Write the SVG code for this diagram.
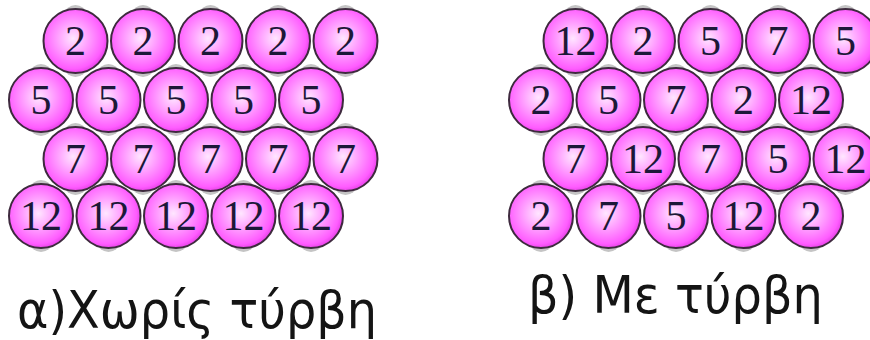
<svg xmlns="http://www.w3.org/2000/svg" xmlns:xlink="http://www.w3.org/1999/xlink" width="870" height="340" viewBox="0 0 870 340">
<style>
.n{font-family:"Liberation Serif","Times New Roman",serif;font-size:42px;fill:#1c1838;text-anchor:middle}
.lbl{font-family:"DejaVu Sans","Liberation Sans",sans-serif;font-size:51px;fill:#141414}
</style>
<defs>
<radialGradient id="gr" cx="0.46" cy="0.46" r="0.56">
<stop offset="0" stop-color="#ffe6ff"/>
<stop offset="0.45" stop-color="#ff9cff"/>
<stop offset="0.85" stop-color="#ff5cff"/>
<stop offset="1" stop-color="#e43ee4"/>
</radialGradient>
<g id="ball">
<ellipse cx="0" cy="0" rx="20" ry="36" fill="#c4c4c4"/>
<circle cx="0" cy="0" r="32" fill="url(#gr)" stroke="#3e2a3e" stroke-width="2"/>
</g>
</defs>
<rect width="870" height="340" fill="#ffffff"/>
<g id="left">
<g id="a11"><use href="#ball" x="75.5" y="41"/><text class="n" x="75.5" y="55">2</text></g>
<g id="a12"><use href="#ball" x="143" y="41"/><text class="n" x="143" y="55">2</text></g>
<g id="a13"><use href="#ball" x="210.5" y="41"/><text class="n" x="210.5" y="55">2</text></g>
<g id="a14"><use href="#ball" x="278" y="41"/><text class="n" x="278" y="55">2</text></g>
<g id="a15"><use href="#ball" x="345.5" y="41"/><text class="n" x="345.5" y="55">2</text></g>
<g id="a21"><use href="#ball" x="41" y="100"/><text class="n" x="41" y="114">5</text></g>
<g id="a22"><use href="#ball" x="108.5" y="100"/><text class="n" x="108.5" y="114">5</text></g>
<g id="a23"><use href="#ball" x="176" y="100"/><text class="n" x="176" y="114">5</text></g>
<g id="a24"><use href="#ball" x="243.5" y="100"/><text class="n" x="243.5" y="114">5</text></g>
<g id="a25"><use href="#ball" x="311" y="100"/><text class="n" x="311" y="114">5</text></g>
<g id="a31"><use href="#ball" x="75.5" y="159"/><text class="n" x="75.5" y="173">7</text></g>
<g id="a32"><use href="#ball" x="143" y="159"/><text class="n" x="143" y="173">7</text></g>
<g id="a33"><use href="#ball" x="210.5" y="159"/><text class="n" x="210.5" y="173">7</text></g>
<g id="a34"><use href="#ball" x="278" y="159"/><text class="n" x="278" y="173">7</text></g>
<g id="a35"><use href="#ball" x="345.5" y="159"/><text class="n" x="345.5" y="173">7</text></g>
<g id="a41"><use href="#ball" x="41" y="216"/><text class="n" x="41" y="230">12</text></g>
<g id="a42"><use href="#ball" x="108.5" y="216"/><text class="n" x="108.5" y="230">12</text></g>
<g id="a43"><use href="#ball" x="176" y="216"/><text class="n" x="176" y="230">12</text></g>
<g id="a44"><use href="#ball" x="243.5" y="216"/><text class="n" x="243.5" y="230">12</text></g>
<g id="a45"><use href="#ball" x="311" y="216"/><text class="n" x="311" y="230">12</text></g>
</g>
<g id="right">
<g id="b11"><use href="#ball" x="575.5" y="41"/><text class="n" x="575.5" y="55">12</text></g>
<g id="b12"><use href="#ball" x="643" y="41"/><text class="n" x="643" y="55">2</text></g>
<g id="b13"><use href="#ball" x="710.5" y="41"/><text class="n" x="710.5" y="55">5</text></g>
<g id="b14"><use href="#ball" x="778" y="41"/><text class="n" x="778" y="55">7</text></g>
<g id="b15"><use href="#ball" x="845.5" y="41"/><text class="n" x="845.5" y="55">5</text></g>
<g id="b21"><use href="#ball" x="541" y="100"/><text class="n" x="541" y="114">2</text></g>
<g id="b22"><use href="#ball" x="608.5" y="100"/><text class="n" x="608.5" y="114">5</text></g>
<g id="b23"><use href="#ball" x="676" y="100"/><text class="n" x="676" y="114">7</text></g>
<g id="b24"><use href="#ball" x="743.5" y="100"/><text class="n" x="743.5" y="114">2</text></g>
<g id="b25"><use href="#ball" x="811" y="100"/><text class="n" x="811" y="114">12</text></g>
<g id="b31"><use href="#ball" x="575.5" y="159"/><text class="n" x="575.5" y="173">7</text></g>
<g id="b32"><use href="#ball" x="643" y="159"/><text class="n" x="643" y="173">12</text></g>
<g id="b33"><use href="#ball" x="710.5" y="159"/><text class="n" x="710.5" y="173">7</text></g>
<g id="b34"><use href="#ball" x="778" y="159"/><text class="n" x="778" y="173">5</text></g>
<g id="b35"><use href="#ball" x="845.5" y="159"/><text class="n" x="845.5" y="173">12</text></g>
<g id="b41"><use href="#ball" x="541" y="216"/><text class="n" x="541" y="230">2</text></g>
<g id="b42"><use href="#ball" x="608.5" y="216"/><text class="n" x="608.5" y="230">7</text></g>
<g id="b43"><use href="#ball" x="676" y="216"/><text class="n" x="676" y="230">5</text></g>
<g id="b44"><use href="#ball" x="743.5" y="216"/><text class="n" x="743.5" y="230">12</text></g>
<g id="b45"><use href="#ball" x="811" y="216"/><text class="n" x="811" y="230">2</text></g>
</g>
<g id="labels">
<text id="labelA" class="lbl" x="17" y="328" textLength="360" lengthAdjust="spacingAndGlyphs">α)Χωρίς τύρβη</text>
<text id="labelB" class="lbl" x="528" y="313" textLength="295" lengthAdjust="spacingAndGlyphs">β) Με τύρβη</text>
</g>
</svg>
